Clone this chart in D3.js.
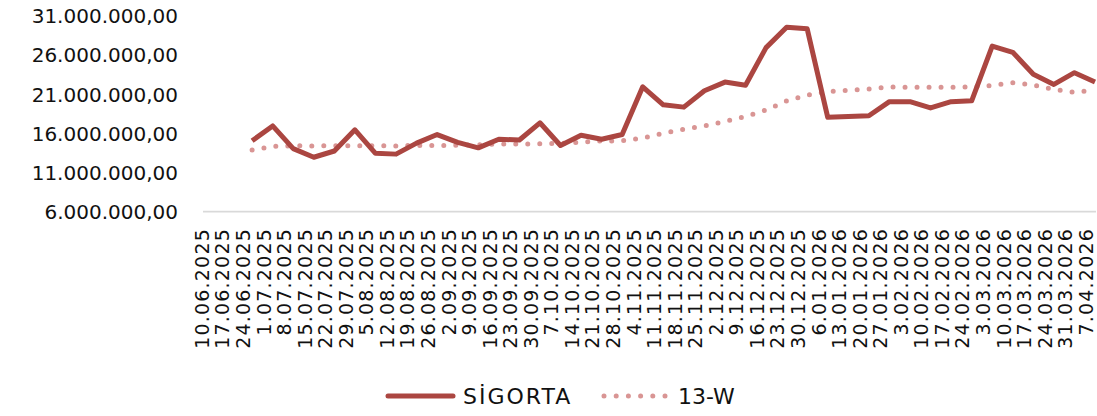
<!DOCTYPE html>
<html>
<head>
<meta charset="utf-8">
<script src="https://cdn.jsdelivr.net/npm/d3@7"></script>
<style>
  html, body { margin: 0; padding: 0; background: #fff; }
  svg { display: block; }
  text { font-family: "DejaVu Sans", sans-serif; fill: #111; }
</style>
</head>
<body>
<svg id="chart" width="1097" height="416"></svg>
<script>
const categories = ["10.06.2025","17.06.2025","24.06.2025","1.07.2025","8.07.2025","15.07.2025","22.07.2025","29.07.2025","5.08.2025","12.08.2025","19.08.2025","26.08.2025","2.09.2025","9.09.2025","16.09.2025","23.09.2025","30.09.2025","7.10.2025","14.10.2025","21.10.2025","28.10.2025","4.11.2025","11.11.2025","18.11.2025","25.11.2025","2.12.2025","9.12.2025","16.12.2025","23.12.2025","30.12.2025","6.01.2026","13.01.2026","20.01.2026","27.01.2026","3.02.2026","10.02.2026","17.02.2026","24.02.2026","3.03.2026","10.03.2026","17.03.2026","24.03.2026","31.03.2026","7.04.2026"];

const sigorta = [null, null, 15.0e6, 16.9e6, 14.0e6, 12.9e6, 13.7e6, 16.4e6, 13.4e6, 13.3e6, 14.7e6, 15.8e6, 14.8e6, 14.1e6, 15.2e6, 15.1e6, 17.3e6, 14.4e6, 15.7e6, 15.2e6, 15.8e6, 21.9e6, 19.6e6, 19.3e6, 21.4e6, 22.5e6, 22.1e6, 26.9e6, 29.5e6, 29.3e6, 18.0e6, 18.1e6, 18.2e6, 20.0e6, 20.0e6, 19.2e6, 20.0e6, 20.1e6, 27.1e6, 26.3e6, 23.5e6, 22.2e6, 23.7e6, 22.5e6];

const w13 = [null, null, 13.83e6, 14.28e6, 14.37e6, 14.34e6, 14.37e6, 14.38e6, 14.37e6, 14.34e6, 14.42e6, 14.40e6, 14.42e6, 14.50e6, 14.60e6, 14.60e6, 14.62e6, 14.68e6, 14.81e6, 14.98e6, 15.00e6, 15.36e6, 15.96e6, 16.47e6, 16.89e6, 17.47e6, 18.11e6, 18.94e6, 20.09e6, 20.85e6, 21.27e6, 21.45e6, 21.62e6, 21.87e6, 21.85e6, 21.84e6, 21.84e6, 21.90e6, 22.07e6, 22.41e6, 22.13e6, 21.56e6, 21.20e6, 21.49e6];

const yTicks = [6e6, 11e6, 16e6, 21e6, 26e6, 31e6];

const seriesNames = ["SİGORTA", "13-W"];

const svg = d3.select("#chart");

const x = d3.scalePoint().domain(categories).range([211, 1095]);
const y = d3.scaleLinear().domain([6e6, 31e6]).range([211.3, 15.5]);

const locale = d3.formatLocale({ decimal: ",", thousands: ".", grouping: [3], currency: ["", ""] });
const fmt = locale.format(",.2f");

// y axis labels (no line)
const yAxis = d3.axisLeft(y).tickValues(yTicks).tickFormat(fmt).tickSize(0).tickPadding(0);
const gy = svg.append("g").attr("transform", "translate(178,0)").call(yAxis);
gy.select(".domain").remove();
gy.selectAll("text")
  .style("font-family", '"DejaVu Sans", sans-serif')
  .style("font-size", "20px")
  .attr("fill", "#111")
  .attr("dy", "0.36em");

// x axis line
svg.append("line")
  .attr("x1", 203).attr("x2", 1096)
  .attr("y1", y(6e6) + 0.3).attr("y2", y(6e6) + 0.3)
  .attr("stroke", "#d9d9d9").attr("stroke-width", 1.6);

// x labels
const xAxis = d3.axisBottom(x).tickSize(0).tickPadding(0);
const gx = svg.append("g").attr("transform", "translate(0,228)").call(xAxis);
gx.select(".domain").remove();
gx.selectAll(".tick text")
  .attr("transform", "translate(-9.5,0) rotate(-90)")
  .attr("text-anchor", "end")
  .attr("x", 0).attr("y", 0)
  .attr("dy", "0.36em")
  .style("font-family", '"DejaVu Sans", sans-serif')
  .style("font-size", "19px")
  .style("letter-spacing", "1.2px")
  .attr("fill", "#111");

const line = d3.line()
  .defined(d => d.v !== null)
  .x(d => x(d.c))
  .y(d => y(d.v));

const wData = categories.map((c, i) => ({ c, v: w13[i] }));
const sData = categories.map((c, i) => ({ c, v: sigorta[i] }));

svg.append("path")
  .datum(wData)
  .attr("d", line)
  .attr("fill", "none")
  .attr("stroke", "#d99594")
  .attr("stroke-width", 5)
  .attr("stroke-linecap", "round")
  .attr("stroke-dasharray", "0 12");

svg.append("path")
  .datum(sData)
  .attr("d", line)
  .attr("fill", "none")
  .attr("stroke", "#ab4641")
  .attr("stroke-width", 5)
  .attr("stroke-linejoin", "round");

// legend
const lg = svg.append("g");
lg.append("line").attr("x1", 388).attr("x2", 453).attr("y1", 396).attr("y2", 396)
  .attr("stroke", "#ab4641").attr("stroke-width", 5).attr("stroke-linecap", "round");
lg.append("text").attr("x", 463).attr("y", 396).attr("dy", "0.36em")
  .style("font-size", "22px").style("letter-spacing", "2px").text(seriesNames[0]);
lg.append("line").attr("x1", 604).attr("x2", 665).attr("y1", 396).attr("y2", 396)
  .attr("stroke", "#d99594").attr("stroke-width", 5).attr("stroke-linecap", "round")
  .attr("stroke-dasharray", "0 12.2");
lg.append("text").attr("x", 678).attr("y", 396).attr("dy", "0.36em")
  .style("font-size", "22px").text(seriesNames[1]);
</script>
</body>
</html>
